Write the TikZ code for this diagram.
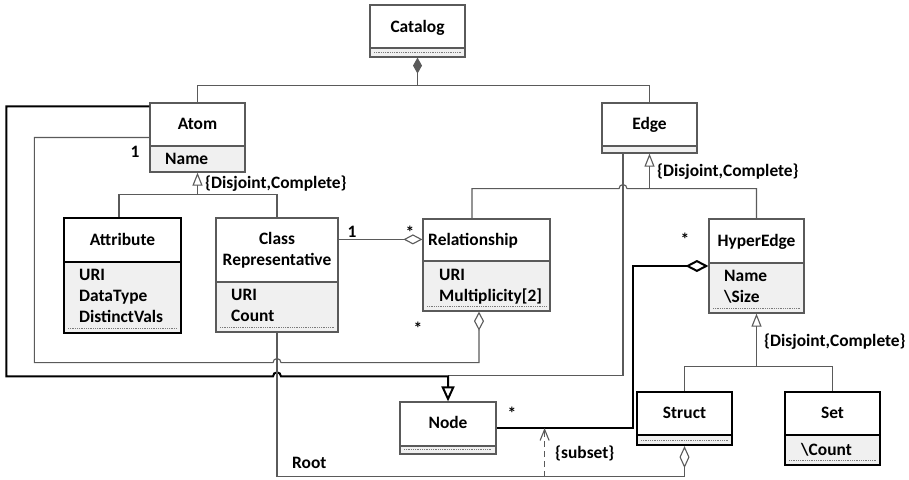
\documentclass[tikz,border=0pt]{standalone}
\usepackage{fontspec}
\setmainfont{Carlito}
\usetikzlibrary{arrows.meta,calc}
\definecolor{linec}{HTML}{5A5A5A}
\definecolor{cfill}{HTML}{F0F0F0}
\definecolor{dotc}{HTML}{7A7A7A}
\newcommand\lblfont{\fontsize{17.4}{19}\selectfont\bfseries}
\tikzset{
  box/.style={draw=linec, line width=1.2pt, inner sep=0pt},
  tbox/.style={draw=black, line width=2.2pt, inner sep=0pt},
  conn/.style={draw=linec, line width=1.1pt},
  tconn/.style={draw=black, line width=2pt},
  lbl/.style={font=\lblfont, inner sep=0pt, text height=12.5pt, text depth=2pt},
  gentip/.style={-{Triangle[open,length=13pt,width=10pt,fill=white]}},
  aggtip/.style={-{Diamond[open,length=19pt,width=10pt,fill=white]}},
}
\newcommand{\umlbox}[8]{%
  \fill[cfill] (#2,#6) rectangle (#4,#5);
  \ifnum#8=1 \draw[dotc, line width=0.7pt, dash pattern=on 0.9pt off 0.9pt] ({#2+4},{#5-5}) -- ({#4-4},{#5-5});\fi
  \draw[#7] (#2,#6) -- (#4,#6);
  \node[#7, minimum width={(#4-#2)*1pt}, minimum height={(#5-#3)*1pt}] (#1) at ({(#2+#4)/2},{(#3+#5)/2}) {};
}
\begin{document}
\begin{tikzpicture}[x=1pt,y=-1pt]
\useasboundingbox (0,0) rectangle (909,479);
% ---------- classes ----------
\umlbox{catalog}{370}{5}{465}{57}{48}{box}{1}
\umlbox{atom}{150}{103}{245}{172}{146}{box}{0}
\umlbox{edge}{602}{103}{697}{153}{146}{box}{0}
\umlbox{attr}{64}{218}{181}{333}{262}{tbox}{1}
\umlbox{crep}{216}{218}{338}{332}{282}{box}{1}
\umlbox{rel}{423}{219}{550}{311}{261}{box}{1}
\umlbox{hyper}{709}{219}{804}{313}{263}{box}{1}
\umlbox{node}{400}{402}{496}{454}{446}{box}{1}
\umlbox{struct}{637}{392}{732}{445}{435}{tbox}{1}
\umlbox{set}{785}{392}{880}{465}{435}{tbox}{1}
% ---------- class texts ----------
\node[lbl] (catalogT) at (417.5,27) {Catalog};
\node[lbl] (atomT) at (197.5,124.5) {Atom};
\node[lbl, anchor=west] (atomA1) at (165,159) {Name};
\node[lbl] (edgeT) at (649.5,124.5) {Edge};
\node[lbl] (attrT) at (122.5,240) {Attribute};
\node[lbl, anchor=west] (attrA1) at (79,275) {URI};
\node[lbl, anchor=west] (attrA2) at (79,296) {DataType};
\node[lbl, anchor=west] (attrA3) at (79,317) {DistinctVals};
\node[lbl] (crepT1) at (277,239.5) {Class};
\node[lbl] (crepT2) at (277,260.5) {Representative};
\node[lbl, anchor=west] (crepA1) at (231,295) {URI};
\node[lbl, anchor=west] (crepA2) at (231,316) {Count};
\node[lbl, anchor=west] (relT) at (428,240) {Relationship};
\node[lbl, anchor=west] (relA1) at (439,275) {URI};
\node[lbl, anchor=west] (relA2) at (439,296) {Multiplicity[2]};
\node[lbl] (hyperT) at (756.5,241.5) {HyperEdge};
\node[lbl, anchor=west] (hyperA1) at (724,276) {Name};
\node[lbl, anchor=west] (hyperA2) at (724,297) {\textbackslash Size};
\node[lbl] (nodeT) at (448,423.5) {Node};
\node[lbl] (structT) at (684.5,413) {Struct};
\node[lbl] (setT) at (832.5,413) {Set};
\node[lbl, anchor=west] (setA1) at (801,450) {\textbackslash Count};
% ---------- Catalog composition ----------
\coordinate (cj) at ($(catalog.south)+(0,28)$);
\draw[conn, {Diamond[length=16pt,width=9pt]}-] (catalog.south) -- (cj);
\draw[conn] (atom.north) |- (cj) -| (edge.north);
% ---------- Atom generalization ----------
\coordinate (ag) at ($(atom.south)+(0,22)$);
\draw[conn, gentip] (ag) -- (atom.south);
\draw[conn] ($(attr.north)+(-3.5,0)$) |- (ag) -| (crep.north);
% ---------- Edge generalization ----------
\coordinate (eg) at ($(edge.south)+(0,35)$);
\coordinate (egJ) at ($(edge.south)+(-26.5,35)$);
\coordinate (relTop) at ($(rel.north)+(-14.5,0)$);
\draw[conn, gentip] (eg) -- (edge.south);
\draw[conn] (relTop) |- ($(egJ)+(-4,0)$) .. controls ($(egJ)+(-4,-5.3)$) and ($(egJ)+(4,-5.3)$) .. ($(egJ)+(4,0)$) -| (hyper.north);
% ---------- Node generalization ----------
\coordinate (ng) at ($(node.north)+(0,-25)$);
\coordinate (eS) at ($(edge.south)+(-26.5,0)$);
\coordinate (j2) at (crep.south |- ng);
\coordinate (thickL) at ($(atom.north west)+(-143,4)$);
\draw[conn] (eS) |- ($(ng)+(0,-0.5)$);
\draw[tconn, -{Triangle[open,length=15pt,width=13pt,fill=white]}]
  ($(atom.north west)+(0,4)$) -- (thickL) |- ($(j2)+(-4,0)$)
  .. controls ($(j2)+(-4,-5.3)$) and ($(j2)+(4,-5.3)$) .. ($(j2)+(4,0)$)
  -- (ng) -- (node.north);
% ---------- Atom - Relationship aggregation ----------
\coordinate (thinL) at ($(atom.west)+(-115,0)$);
\coordinate (j1) at ($(crep.south)+(0,30)$);
\coordinate (relB) at ($(rel.south)+(-7.5,0)$);
\draw[conn, aggtip] (atom.west) -- (thinL) |- ($(j1)+(-4,0)$)
  .. controls ($(j1)+(-4,-5.3)$) and ($(j1)+(4,-5.3)$) .. ($(j1)+(4,0)$)
  -| (relB);
% ---------- ClassRep - Relationship ----------
\coordinate (a1) at ($(rel.north west)+(0,21)$);
\draw[conn, aggtip] (crep.east |- a1) -- (a1);
% ---------- Node - HyperEdge ----------
\draw[tconn, -{Diamond[open,length=23pt,width=12pt,fill=white]}] (node.east) -- ++(136,0) |- (hyper.west);
% ---------- Root ----------
\coordinate (rootB) at ($(crep.south)+(0,144)$);
\draw[conn, -{Diamond[open,length=22pt,width=10pt,fill=white]}] (crep.south) -- (rootB) -| (struct.south);
% ---------- subset dependency ----------
\coordinate (dp) at ($(node.east)+(48,0)$);
\draw[conn, dash pattern=on 6pt off 4pt, -{Straight Barb[length=11pt,width=9pt]}] (dp |- rootB) -- (dp);
% ---------- HyperEdge generalization ----------
\coordinate (hg) at ($(hyper.south)+(0,53)$);
\draw[conn, gentip] (hg) -- (hyper.south);
\draw[conn] (struct.north) |- (hg) -| (set.north);
% ---------- labels ----------
\node[lbl, anchor=west] (dc1) at (205,183) {\{Disjoint,Complete\}};
\node[lbl, anchor=west] (dc2) at (657,171) {\{Disjoint,Complete\}};
\node[lbl, anchor=west] (dc3) at (764,341) {\{Disjoint,Complete\}};
\node[lbl] (m1) at (135,152) {1};
\node[lbl] (m2) at (352,232) {1};
\node[lbl] (m3) at (410,233) {*};
\node[lbl] (m4) at (418,329) {*};
\node[lbl] (m5) at (685,240) {*};
\node[lbl] (m6) at (512,414) {*};
\node[lbl, anchor=west] (rootL) at (292,463) {Root};
\node[lbl, anchor=west] (subL) at (555,453) {\{subset\}};
\end{tikzpicture}
\end{document}
